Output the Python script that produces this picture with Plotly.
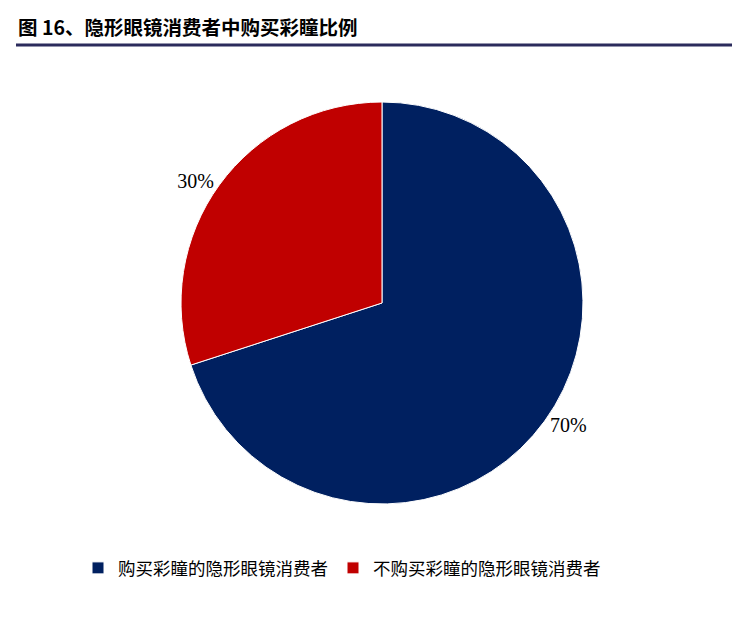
import plotly.graph_objects as go

labels = ["购买彩瞳的隐形眼镜消费者", "不购买彩瞳的隐形眼镜消费者"]
values = [70, 30]
colors = ["#002060", "#C00000"]

fig = go.Figure()
fig.add_trace(go.Pie(
    labels=labels,
    values=values,
    sort=False,
    direction="clockwise",
    rotation=0,
    marker=dict(colors=colors, line=dict(color="white", width=1)),
    textinfo="percent",
    texttemplate="%{percent:.0%}",
    textposition="outside",
    textfont=dict(family="Liberation Serif", size=20, color="black"),
    domain=dict(x=[0.2338, 0.7770], y=[0.2144, 0.8521]),
    hole=0,
))

fig.update_layout(
    width=740, height=632,
    margin=dict(l=0, r=0, t=0, b=0),
    paper_bgcolor="white",
    plot_bgcolor="white",
    showlegend=True,
    legend=dict(
        orientation="h", x=70 / 740, xanchor="left", y=1 - 560 / 632, yanchor="middle",
        font=dict(family="Noto Sans CJK SC", size=17.5, color="black"),
        itemwidth=30,
    ),
    annotations=[dict(
        text="<b>图 16、隐形眼镜消费者中购买彩瞳比例</b>",
        x=8 / 740, y=1 - 18 / 632, xref="paper", yref="paper",
        xanchor="left", yanchor="middle", showarrow=False,
        font=dict(family="Noto Sans CJK SC", size=19.5, color="black"),
    )],
    shapes=[
        dict(type="line", xref="paper", yref="paper", x0=8 / 740, x1=1, y0=1 - 37 / 632, y1=1 - 37 / 632,
             line=dict(color="#2B2B5C", width=3)),
        dict(type="line", xref="paper", yref="paper", x0=8 / 740, x1=1, y0=1 - 628 / 632, y1=1 - 628 / 632,
             line=dict(color="#2B2B5C", width=3)),
    ],
)

fig.write_html("out.html")
